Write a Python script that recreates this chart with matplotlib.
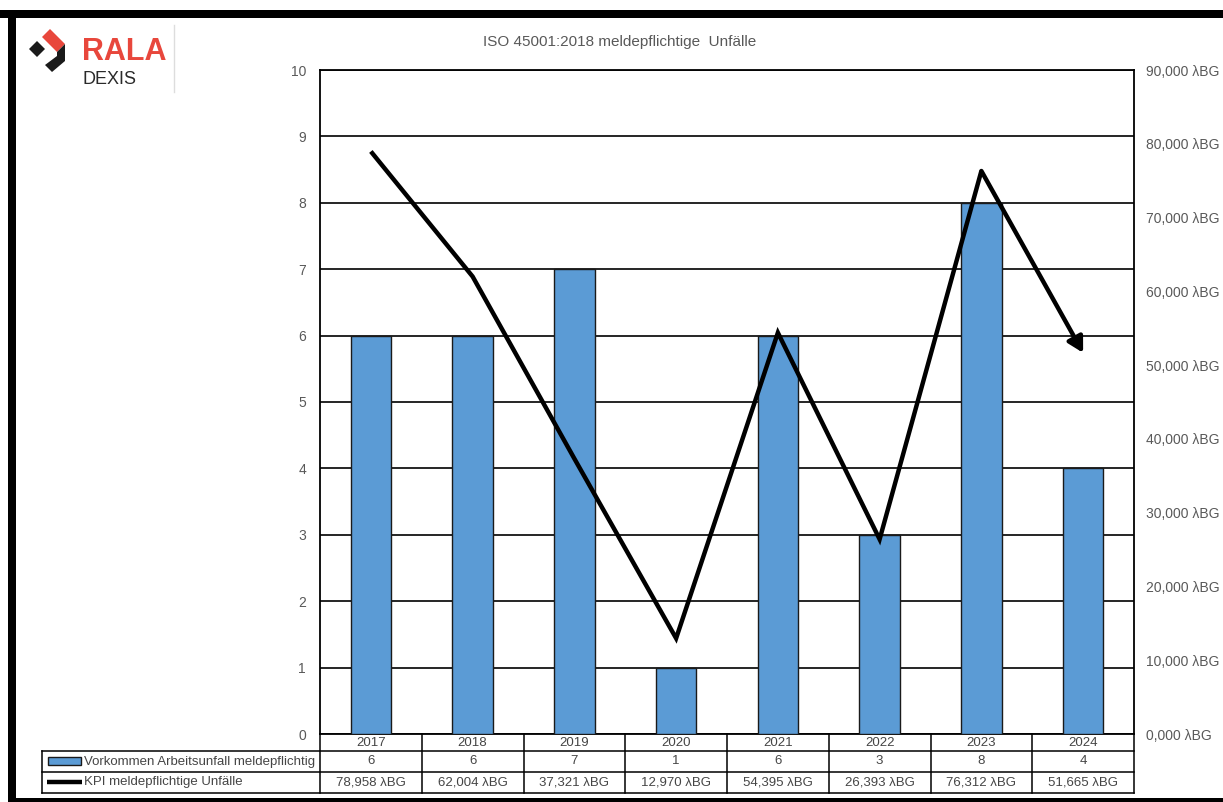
import matplotlib
matplotlib.use("Agg")
import matplotlib.pyplot as plt
import matplotlib.transforms as mtransforms
from matplotlib.patches import Polygon, Rectangle
import numpy as np

plt.rcParams['font.family'] = ['Liberation Sans', 'DejaVu Sans']

# data
years = ['2017', '2018', '2019', '2020', '2021', '2022', '2023', '2024']
counts = [6, 6, 7, 1, 6, 3, 8, 4]
kpi = [78958, 62004, 37321, 12970, 54395, 26393, 76312, 51665]
title = 'ISO 45001:2018 meldepflichtige  Unfälle'
row_labels = ['Vorkommen Arbeitsunfall meldepflichtig', 'KPI meldepflichtige Unfälle']

W, H = 1223, 802
fig = plt.figure(figsize=(W / 100, H / 100), dpi=100)
fig.patch.set_facecolor('white')

# plot area in pixels
L, R, T, B = 320, 1134, 70, 734
ax = fig.add_axes([L / W, 1 - B / H, (R - L) / W, (B - T) / H])
x = np.arange(len(years))
ax.set_xlim(-0.5, len(years) - 0.5)
ax.set_ylim(0, 10)
ax.set_yticks(range(0, 11))
ax.set_xticks([])
ax.yaxis.grid(True, color='black', lw=1.2)
ax.set_axisbelow(True)
for s in ax.spines.values():
    s.set_color('black')
    s.set_linewidth(1.3)
ax.tick_params(axis='y', length=0, pad=10, labelsize=10, labelcolor='#595959')

ax.bar(x, counts, width=0.4, color='#5B9BD5', edgecolor='#1a1a1a', lw=1.0, zorder=3)

ax2 = ax.twinx()
ax2.set_ylim(0, 90000)
ax2.set_yticks(range(0, 90001, 10000))
ax2.set_yticklabels([f"{v // 1000},000 λBG" for v in range(0, 90001, 10000)])
ax2.tick_params(axis='y', length=0, pad=9, labelsize=10, labelcolor='#595959')
for s in ax2.spines.values():
    s.set_visible(False)

ax2.plot(x[:-1], kpi[:-1], color='black', lw=3.2, solid_joinstyle='miter', solid_capstyle='butt', zorder=5)
ax2.annotate('', xy=(x[-1], kpi[-1]), xytext=(x[-2], kpi[-2]),
             arrowprops=dict(arrowstyle='-|>,head_length=0.45,head_width=0.25', lw=3.2,
                             color='black', shrinkA=0, shrinkB=0, mutation_scale=20),
             zorder=5)

# data table under the chart
tr = mtransforms.blended_transform_factory(ax.transData, ax.transAxes)
colw = (R - L) / len(years)


def fx(px):
    return -0.5 + (px - L) / colw


def fy(py):
    return (B - py) / (B - T)


rows = [734, 751, 772, 793]
tcol = '#454545'
lk = dict(color='black', lw=1.1, transform=tr, clip_on=False)
for yy in rows[1:]:
    ax.plot([fx(42), len(years) - 0.5], [fy(yy)] * 2, **lk)
for i in range(len(years) + 1):
    ax.plot([i - 0.5] * 2, [fy(rows[0]), fy(rows[3])], **lk)
ax.plot([fx(42)] * 2, [fy(rows[1]), fy(rows[3])], **lk)

for i, yr in enumerate(years):
    ax.text(i, fy((rows[0] + rows[1]) / 2), yr, transform=tr, ha='center', va='center',
            fontsize=9.5, color=tcol)
    ax.text(i, fy((rows[1] + rows[2]) / 2), str(counts[i]), transform=tr, ha='center',
            va='center', fontsize=9.5, color=tcol)
    ax.text(i, fy((rows[2] + rows[3]) / 2), f"{kpi[i]:,} λBG", transform=tr, ha='center',
            va='center', fontsize=9.5, color=tcol)

ax.text(fx(84), fy((rows[1] + rows[2]) / 2), row_labels[0], transform=tr, ha='left',
        va='center', fontsize=9.5, color=tcol)
ax.text(fx(84), fy((rows[2] + rows[3]) / 2), row_labels[1], transform=tr, ha='left',
        va='center', fontsize=9.5, color=tcol)
ax.add_patch(Rectangle((fx(48), fy(765)), fx(81) - fx(48), fy(757) - fy(765), transform=tr,
                       facecolor='#5B9BD5', edgecolor='#1a1a1a', lw=1.0, clip_on=False))
ax.plot([fx(47), fx(82)], [fy(782)] * 2, color='black', lw=3.2, transform=tr, clip_on=False,
        solid_capstyle='butt')

# overlay for title, logo and frame
ov = fig.add_axes([0, 0, 1, 1], zorder=-1)
ov.set_xlim(0, W)
ov.set_ylim(H, 0)
ov.axis('off')

ov.text(620, 42, title, ha='center', va='center', fontsize=11, color='#595959')

# frame
ov.add_patch(Rectangle((0, 10), W, 8, color='black', lw=0))
ov.add_patch(Rectangle((8, 10), 8, H, color='black', lw=0))
ov.add_patch(Rectangle((8, 798), W, 4, color='black', lw=0))

# logo
ov.add_patch(Polygon([(29, 49), (37, 41), (45, 49), (37, 57)], closed=True, color='#1a1a1a', lw=0))
ov.add_patch(Polygon([(42, 37), (50, 29), (65, 44), (57, 52)], closed=True, color='#E8473C', lw=0))
ov.add_patch(Polygon([(57, 52), (65, 44), (65, 61), (52, 72), (45, 65), (57, 56)], closed=True,
                     color='#1a1a1a', lw=0))
ov.text(82, 52, 'RALA', ha='left', va='center', fontsize=22, fontweight='bold', color='#E8473C')
ov.text(82, 80, 'DEXIS', ha='left', va='center', fontsize=13, color='#2a2a2a')
ov.plot([174, 174], [25, 92], color='#dddddd', lw=1)

fig.savefig('out.png', dpi=100, facecolor='white')
